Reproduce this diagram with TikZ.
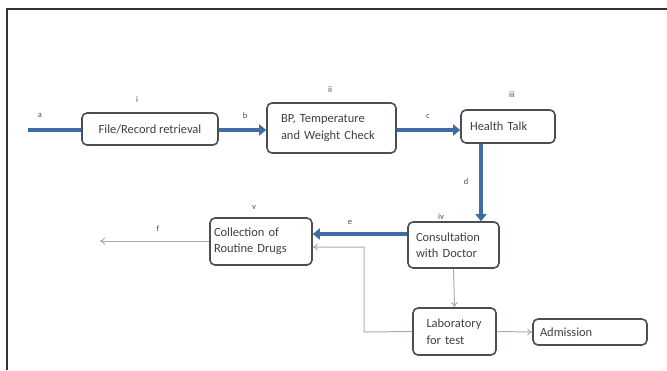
\documentclass[tikz,border=0pt]{standalone}
\usepackage{fontspec}
\setmainfont{Carlito}
\usetikzlibrary{arrows.meta}
\definecolor{flowblue}{HTML}{3F6CA5}
\definecolor{boxline}{HTML}{4A4F55}
\definecolor{thin}{HTML}{A8ADB2}
\tikzset{
  box/.style={draw=boxline, line width=1.6bp, rounded corners=5bp, fill=white, align=left, inner sep=0pt, font=\fontsize{12.5}{16.5}\selectfont, text=black!75},
  thick arrow/.style={draw=flowblue, line width=4.5bp, -{Triangle[length=7bp,width=11bp]}},
  thick line/.style={draw=flowblue, line width=4.5bp},
  thin arrow/.style={draw=thin, line width=1bp, -{To[length=5bp,width=7bp]}},
  thin line/.style={draw=thin, line width=1bp},
  lab/.style={font=\fontsize{8.5}{10}\selectfont, text=black!70}
}
\begin{document}
\begin{tikzpicture}[x=1bp,y=-1bp]
\useasboundingbox (0,0) rectangle (667,370);
% frame
\draw[line width=1.6bp, black!80] (7,370) -- (7,9) -- (667,9);
% boxes
\node[box, minimum width=136bp, minimum height=32bp, align=center] (b1) at (150,129) {File/Record retrieval};
\node[box, minimum width=129bp, minimum height=50bp, text width=101bp] (b2) at (331.5,128) {BP, Temperature\\ and Weight Check};
\node[box, minimum width=94bp, minimum height=33bp, text width=76bp] (b3) at (508,126.5) {Health Talk};
\node[box, minimum width=91bp, minimum height=46bp, text width=75bp] (b4) at (453.5,245) {Consultation\\ with Doctor};
\node[box, minimum width=102bp, minimum height=47bp, text width=94bp] (b5) at (261,241.5) {Collection of\\ Routine Drugs};
\node[box, minimum width=83bp, minimum height=47bp, text width=56bp] (b6) at (454.5,331.5) {Laboratory\\ for test};
\node[box, minimum width=114bp, minimum height=26bp, text width=100bp] (b7) at (590,332) {Admission};
% labels
\node[lab] (la) at (40,115) {a};
\node[lab] (l1) at (137,100) {i};
\node[lab] (lb) at (245,116) {b};
\node[lab] (l2) at (330,90) {ii};
\node[lab] (lc) at (428,116) {c};
\node[lab] (l3) at (512,95) {iii};
\node[lab] (ld) at (466,182) {d};
\node[lab] (l4) at (441,217) {iv};
\node[lab] (le) at (350,222) {e};
\node[lab] (l5) at (254,207) {v};
\node[lab] (lf) at (158,229) {f};
% free ends
\coordinate (start) at (28,130);
\coordinate (fend) at (100,241);
\coordinate (corner1) at (364,332);
\coordinate (corner2) at (364,247);
% thick connectors
\draw[thick line] (start) -- (b1.west |- start);
\draw[thick arrow] (b1.east |- start) -- (b2.west |- start);
\draw[thick arrow] (b2.east |- start) -- (b3.west |- start);
\draw[thick arrow] ([xshift=-27bp]b3.south) -- ([xshift=-27bp]b3.south |- b4.north);
\draw[thick arrow] (b4.west |- 0,234) -- (b5.east |- 0,234);
% thin connectors
\draw[thin arrow] (b5.west |- fend) -- (fend);
\draw[thin arrow] (b4.south) -- (b6.north);
\draw[thin arrow] (b6.east) -- (b7.west);
\draw[thin arrow] (b6.west) -- (corner1) -- (corner2) -- (b5.east |- corner2);
\end{tikzpicture}
\end{document}
